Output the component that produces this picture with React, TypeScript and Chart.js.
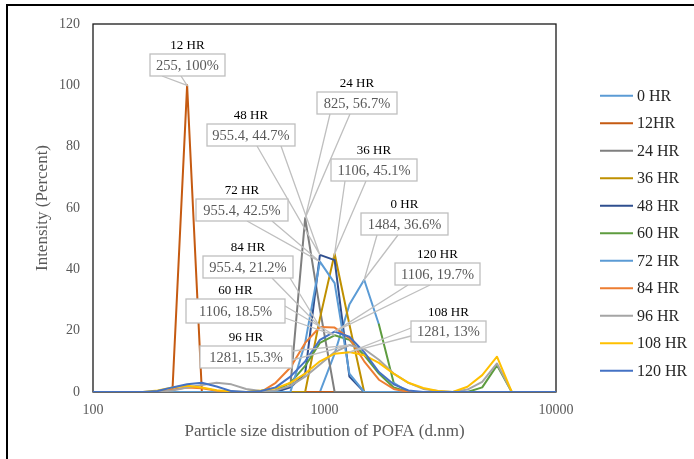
import React, { useEffect, useRef } from "react";
import { Chart, registerables } from "chart.js";

Chart.register(...registerables);

// DLS size classes (d.nm) shown on the log axis
const sizes = [
  91.28, 105.7, 122.4, 141.8, 164.2, 190.1, 220.2, 255, 295.3, 342, 396.1,
  458.7, 531.2, 615.1, 712.4, 825, 955.4, 1106, 1281, 1484, 1718, 1990, 2305,
  2669, 3091, 3580, 4145, 4801, 5560, 6439, 7456, 8635, 10000,
];

const seriesNames = [
  "0 HR", "12HR", "24 HR", "36 HR", "48 HR", "60 HR",
  "72 HR", "84 HR", "96 HR", "108 HR", "120 HR",
];

// Intensity (%) per size class for each grinding time
const hr0 = [0,0,0,0,0,0,0,0,0,0,0,0,0,0,0,0,0,12.5,28.5,36.6,22,3,0,0,0,0,0,0,0,0,0,0,0];
const hr12 = [0,0,0,0,0,0,0,100,0,0,0,0,0,0,0,0,0,0,0,0,0,0,0,0,0,0,0,0,0,0,0,0,0];
const hr24 = [0,0,0,0,0,0,0,0,0,0,0,0,0,0,2,56.7,27,0,0,0,0,0,0,0,0,0,0,0,0,0,0,0,0];
const hr36 = [0,0,0,0,0,0,0,0,0,0,0,0,0,0,0,0,24,45.1,22,0,0,0,0,0,0,0,0,0,0,0,0,0,0];
const hr48 = [0,0,0,0,0,0,0,0,0,0,0,0,0,0,1.5,6,44.7,43,5,0,0,0,0,0,0,0,0,0,0,0,0,0,0];
const hr60 = [0,0,0,0,0,0,0,0,0,0,0,0,0,0.5,3,8.5,16,18.5,17,12,6,1.5,0,0,0,0,0,1.5,8.7,0,0,0,0];
const hr72 = [0,0,0,0,0,0,0,0,0,0,0,0,0,0,0,16,42.5,35.5,6,0,0,0,0,0,0,0,0,0,0,0,0,0,0];
const hr84 = [0,0,0,0,0,0,0.8,1.5,1.2,0.4,0,0,0,3,8,16,21.2,21,17.5,10,4,1,0,0,0,0,0,0,0,0,0,0,0];
const hr96 = [0,0,0,0,0,0,0.5,1.5,2.3,3,2.5,1,0.3,0.5,2,5,9,13,15.3,14,10.5,6,3,1,0.3,0,0.8,3.3,9.3,0,0,0,0];
const hr108 = [0,0,0,0,0,0.5,1.5,2,1.5,0.6,0.2,0,0.5,1.2,3,6,10,12.5,13,12,9.5,6,3,1.3,0.3,0,1.7,5.5,11.5,0,0,0,0];
const hr120 = [0,0,0,0,0,0.3,1.5,2.5,3,1.8,0.3,0,0.3,1.5,5,10,17,19.7,18,13,6.5,2.5,0.5,0,0,0,0,0,0,0,0,0,0];

const seriesValues = [hr0, hr12, hr24, hr36, hr48, hr60, hr72, hr84, hr96, hr108, hr120];

const seriesColors = [
  "#5B9BD5", "#C55A11", "#7F7F7F", "#BF9000", "#2F4F8F", "#5E9C3F",
  "#5B9BD5", "#ED7D31", "#A5A5A5", "#FFC000", "#4472C4",
];

// The 0 HR tail segment (1718 → 1990 nm) is formatted green
const recoloredSegments = [{ series: 0, fromSize: 1718, color: "#5E9C3F" }];

const xTicks = [100, 1000, 10000];
const yMin = 0;
const yMax = 120;
const yStep = 20;

const xTitle = "Particle size distribution of POFA (d.nm)";
const yTitle = "Intensity (Percent)";

// Data callouts: which point they point at, plus their box placement
const callouts = [
  { series: 1, size: 255, title: "12 HR", box: [150, 54, 75, 22], base: [[162, 76], [181, 76]] },
  { series: 4, size: 955.4, title: "48 HR", box: [207, 124, 88, 22], base: [[257, 146], [281, 146]] },
  { series: 2, size: 825, title: "24 HR", box: [317, 92, 80, 22], base: [[330, 114], [350, 114]] },
  { series: 3, size: 1106, title: "36 HR", box: [331, 159, 86, 22], base: [[345, 181], [366, 181]] },
  { series: 0, size: 1484, title: "0 HR", box: [361, 213, 87, 22], base: [[377, 235], [398, 235]] },
  { series: 6, size: 955.4, title: "72 HR", box: [196, 199, 92, 22], base: [[247, 221], [272, 221]] },
  { series: 7, size: 955.4, title: "84 HR", box: [203, 256, 90, 22], base: [[272, 278], [290, 278]] },
  { series: 5, size: 1106, title: "60 HR", box: [186, 299, 99, 24], base: [[285, 306], [285, 318]] },
  { series: 8, size: 1281, title: "96 HR", box: [200, 346, 92, 22], base: [[292, 351], [292, 360]] },
  { series: 10, size: 1106, title: "120 HR", box: [395, 263, 85, 22], base: [[408, 285], [430, 285]] },
  { series: 9, size: 1281, title: "108 HR", box: [411, 321, 75, 21], base: [[411, 328], [411, 336]] },
];

const FONT = "'Liberation Serif', 'Times New Roman', serif";

const plotFrame = {
  id: "plotFrame",
  beforeDatasetsDraw(chart: any) {
    const { ctx, chartArea } = chart;
    ctx.save();
    ctx.strokeStyle = "#1a1a1a";
    ctx.lineWidth = 1.3;
    ctx.strokeRect(chartArea.left, chartArea.top, chartArea.right - chartArea.left, chartArea.bottom - chartArea.top);
    ctx.restore();
  },
};

const calloutPlugin = {
  id: "callouts",
  afterDatasetsDraw(chart: any) {
    const ctx = chart.ctx;
    ctx.save();
    ctx.lineWidth = 1.3;
    ctx.strokeStyle = "#BFBFBF";
    for (const c of callouts) {
      const idx = sizes.indexOf(c.size);
      const pt = chart.getDatasetMeta(c.series).data[idx];
      ctx.beginPath();
      ctx.moveTo(c.base[0][0], c.base[0][1]);
      ctx.lineTo(pt.x, pt.y);
      ctx.lineTo(c.base[1][0], c.base[1][1]);
      ctx.stroke();
    }
    for (const c of callouts) {
      const idx = sizes.indexOf(c.size);
      const value = seriesValues[c.series][idx];
      const [bx, by, bw, bh] = c.box;
      ctx.fillStyle = "#ffffff";
      ctx.fillRect(bx, by, bw, bh);
      ctx.strokeStyle = "#BFBFBF";
      ctx.strokeRect(bx, by, bw, bh);
      ctx.textAlign = "center";
      ctx.textBaseline = "middle";
      ctx.fillStyle = "#595959";
      ctx.font = `14.5px ${FONT}`;
      ctx.fillText(`${c.size}, ${value}%`, bx + bw / 2, by + bh / 2 + 1);
      ctx.fillStyle = "#000000";
      ctx.font = `13px ${FONT}`;
      ctx.fillText(c.title, bx + bw / 2, by - 8);
    }
    ctx.restore();
  },
};

const legendPlugin = {
  id: "sideLegend",
  afterDraw(chart: any) {
    const ctx = chart.ctx;
    ctx.save();
    chart.data.datasets.forEach((ds: any, i: number) => {
      const y = 95.7 + i * 27.5;
      ctx.strokeStyle = ds.borderColor;
      ctx.lineWidth = 2;
      ctx.beginPath();
      ctx.moveTo(600, y);
      ctx.lineTo(633, y);
      ctx.stroke();
      ctx.fillStyle = "#262626";
      ctx.font = `16px ${FONT}`;
      ctx.textAlign = "left";
      ctx.textBaseline = "middle";
      ctx.fillText(ds.label, 637, y + 1);
    });
    ctx.restore();
  },
};

export default function App() {
  const canvasRef = useRef<HTMLCanvasElement | null>(null);

  useEffect(() => {
    if (!canvasRef.current) return;
    const n = seriesNames.length;
    const chart = new Chart(canvasRef.current, {
      type: "scatter",
      data: {
        datasets: seriesNames.map((name, i) => {
          const seg = recoloredSegments.find((r) => r.series === i);
          const segStart = seg ? sizes.indexOf(seg.fromSize) : -1;
          return {
            label: name,
            data: sizes.map((s, j) => ({ x: s, y: seriesValues[i][j] })),
            borderColor: seriesColors[i],
            backgroundColor: seriesColors[i],
            borderWidth: 2,
            pointRadius: 0,
            pointHoverRadius: 0,
            showLine: true,
            tension: 0,
            fill: false,
            borderJoinStyle: "round",
            borderCapStyle: "round",
            order: n - i,
            segment: seg
              ? { borderColor: (ctx: any) => (ctx.p0DataIndex === segStart ? seg.color : undefined) }
              : undefined,
          };
        }),
      },
      options: {
        animation: false,
        responsive: false,
        events: [],
        layout: { padding: { left: 0, top: 24, right: 138, bottom: 0 } },
        plugins: {
          legend: { display: false },
          tooltip: { enabled: false },
          title: { display: false },
        },
        scales: {
          x: {
            type: "logarithmic",
            min: 100,
            max: 10000,
            grid: { display: false, drawTicks: false },
            border: { display: false },
            afterBuildTicks: (scale: any) => {
              scale.ticks = xTicks.map((v) => ({ value: v }));
            },
            afterFit: (scale: any) => {
              scale.height = 67;
            },
            ticks: {
              autoSkip: false,
              maxRotation: 0,
              padding: 10,
              color: "#595959",
              font: { family: FONT, size: 14 },
              callback: (v: any) => String(v),
            },
            title: {
              display: true,
              text: xTitle,
              color: "#595959",
              font: { family: FONT, size: 17 },
              padding: { top: 4, bottom: 17 },
            },
          },
          y: {
            min: yMin,
            max: yMax,
            grid: { display: false, drawTicks: false },
            border: { display: false },
            afterFit: (scale: any) => {
              scale.width = 93;
            },
            ticks: {
              stepSize: yStep,
              padding: 13,
              color: "#595959",
              font: { family: FONT, size: 14 },
            },
            title: {
              display: true,
              text: yTitle,
              color: "#595959",
              font: { family: FONT, size: 17 },
              padding: { top: 32, bottom: 0 },
            },
          },
        },
      },
      plugins: [plotFrame, calloutPlugin, legendPlugin],
    });
    return () => chart.destroy();
  }, []);

  return (
    <div style={{ position: "fixed", left: 0, top: 0, width: 694, height: 459, overflow: "hidden", background: "#fff" }}>
      <div style={{ position: "absolute", left: 6, top: 4, width: 800, height: 600, border: "2px solid #000" }} />
      <canvas ref={canvasRef} width={694} height={459} style={{ position: "absolute", left: 0, top: 0 }} />
    </div>
  );
}
